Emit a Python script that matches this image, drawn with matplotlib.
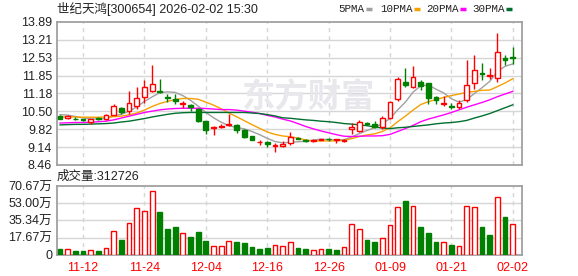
import matplotlib
matplotlib.use("Agg")
import matplotlib.pyplot as plt
from matplotlib.lines import Line2D

# ---------------------------------------------------------------------------
# DATA
# ---------------------------------------------------------------------------
dates = ["11-07", "11-10", "11-11", "11-12", "11-13", "11-14", "11-17", "11-18",
         "11-19", "11-20", "11-21", "11-24", "11-25", "11-26", "11-27", "11-28",
         "12-01", "12-02", "12-03", "12-04", "12-05", "12-08", "12-09", "12-10",
         "12-11", "12-12", "12-15", "12-16", "12-17", "12-18", "12-19", "12-22",
         "12-23", "12-24", "12-25", "12-26", "12-29", "12-30", "12-31", "01-05",
         "01-06", "01-07", "01-08", "01-09", "01-12", "01-13", "01-14", "01-15",
         "01-16", "01-19", "01-20", "01-21", "01-22", "01-23", "01-26", "01-27",
         "01-28", "01-29", "01-30", "02-02"]
shown_dates = ["11-12", "11-24", "12-04", "12-16", "12-26", "01-09", "01-21", "02-02"]

opens = [10.33, 10.25, 10.22, 10.20, 10.09, 10.23, 10.21, 10.37, 10.62, 10.50,
         10.71, 11.03, 11.27, 11.27, 11.05, 10.97, 10.77, 10.74, 10.58, 10.12,
         9.86, 9.89, 9.96, 9.98, 9.80, 9.55, 9.32, 9.33, 9.19, 9.17,
         9.30, 9.50, 9.41, 9.37, 9.41, 9.46, 9.40, 9.37, 9.82, 9.76,
         10.06, 10.03, 9.89, 10.24, 10.96, 11.60, 11.42, 11.60, 11.56, 11.05,
         10.78, 10.70, 10.66, 10.91, 11.56, 11.96, 11.83, 11.75, 12.53, 12.56]
highs = [10.36, 10.36, 10.26, 10.22, 10.20, 10.26, 10.38, 10.77, 10.64, 11.27,
         11.40, 11.68, 12.25, 11.72, 11.16, 11.16, 10.88, 10.78, 10.62, 10.14,
         9.93, 10.01, 10.39, 10.00, 9.82, 9.57, 9.42, 9.38, 9.29, 9.38,
         9.71, 9.52, 9.43, 9.44, 9.46, 9.50, 9.46, 9.45, 10.05, 10.18,
         10.10, 10.14, 10.30, 10.89, 11.80, 12.13, 12.22, 11.69, 11.58, 11.08,
         11.06, 10.81, 10.93, 12.44, 12.63, 12.32, 12.15, 13.47, 12.63, 12.95]
lows = [10.19, 10.20, 10.15, 10.12, 10.03, 10.17, 10.17, 10.35, 10.38, 10.40,
        10.59, 10.80, 11.22, 11.19, 10.85, 10.77, 10.63, 10.49, 10.08, 9.64,
        9.61, 9.86, 9.94, 9.67, 9.50, 9.40, 9.21, 9.15, 8.96, 9.13,
        9.23, 9.43, 9.35, 9.35, 9.40, 9.38, 9.29, 9.33, 9.64, 9.71,
        9.98, 9.86, 9.84, 10.20, 10.89, 11.40, 11.37, 11.31, 10.77, 10.78,
        10.68, 10.59, 10.59, 10.85, 11.35, 11.69, 11.72, 11.62, 12.25, 12.28]
closes = [10.21, 10.30, 10.19, 10.15, 10.19, 10.19, 10.36, 10.70, 10.45, 10.81,
          10.99, 11.41, 11.54, 11.24, 10.99, 10.88, 10.81, 10.64, 10.14, 9.77,
          9.89, 9.95, 10.00, 9.80, 9.51, 9.41, 9.34, 9.27, 9.21, 9.26,
          9.51, 9.46, 9.37, 9.40, 9.44, 9.43, 9.43, 9.41, 9.90, 10.09,
          10.03, 9.91, 10.24, 10.85, 11.71, 11.50, 11.79, 11.44, 10.99, 10.93,
          10.81, 10.67, 10.80, 11.50, 12.06, 11.92, 11.86, 12.73, 12.43, 12.52]

# volume in units of 10,000 shares (万)
volumes = [6.1, 6.0, 4.0, 4.0, 4.8, 4.0, 6.8, 24.3, 15.4, 32.5,
           47.8, 44.8, 65.3, 44.0, 26.6, 28.7, 22.2, 18.4, 23.6, 14.3,
           8.9, 8.9, 14.0, 13.3, 12.3, 8.2, 6.1, 7.2, 9.9, 8.9,
           13.0, 7.2, 6.1, 4.8, 5.8, 6.1, 5.1, 7.9, 31.4, 26.3,
           15.4, 13.3, 17.1, 30.7, 48.9, 55.3, 49.9, 28.7, 22.5, 13.3,
           13.3, 10.2, 8.9, 49.9, 48.9, 28.7, 20.5, 59.1, 38.9, 31.27]
vol_up = [0, 1, 0, 0, 1, 0, 1, 1, 0, 1,
          1, 1, 1, 0, 0, 0, 1, 0, 0, 0,
          1, 1, 1, 0, 0, 0, 0, 0, 1, 1,
          1, 0, 0, 1, 1, 0, 0, 1, 1, 1,
          0, 0, 1, 1, 1, 0, 1, 0, 0, 0,
          1, 0, 1, 1, 1, 0, 0, 1, 0, 1]

ma5 = [10.37, 10.35, 10.30, 10.24, 10.21, 10.20, 10.22, 10.32, 10.38, 10.50,
       10.66, 10.87, 11.04, 11.20, 11.23, 11.21, 11.09, 10.91, 10.69, 10.45,
       10.25, 10.08, 9.95, 9.88, 9.83, 9.73, 9.61, 9.47, 9.35, 9.30,
       9.32, 9.34, 9.36, 9.40, 9.44, 9.42, 9.41, 9.42, 9.52, 9.65,
       9.77, 9.87, 10.03, 10.22, 10.55, 10.84, 11.22, 11.46, 11.49, 11.33,
       11.19, 10.97, 10.84, 10.94, 11.17, 11.39, 11.63, 12.01, 12.20, 12.29]
ma10 = [10.28, 10.28, 10.28, 10.27, 10.27, 10.27, 10.28, 10.29, 10.31, 10.36,
        10.43, 10.54, 10.68, 10.79, 10.87, 10.94, 10.98, 10.98, 10.95, 10.84,
        10.73, 10.59, 10.43, 10.29, 10.14, 9.99, 9.85, 9.71, 9.62, 9.56,
        9.53, 9.48, 9.41, 9.37, 9.37, 9.37, 9.38, 9.39, 9.46, 9.54,
        9.60, 9.64, 9.73, 9.87, 10.10, 10.31, 10.54, 10.75, 10.86, 10.94,
        11.02, 11.09, 11.15, 11.21, 11.25, 11.29, 11.30, 11.43, 11.57, 11.73]
ma20 = [10.05, 10.06, 10.07, 10.07, 10.08, 10.10, 10.12, 10.17, 10.24, 10.31,
        10.38, 10.45, 10.50, 10.55, 10.58, 10.60, 10.61, 10.61, 10.61, 10.60,
        10.58, 10.56, 10.56, 10.54, 10.50, 10.46, 10.41, 10.34, 10.28, 10.20,
        10.13, 10.03, 9.92, 9.83, 9.75, 9.68, 9.61, 9.55, 9.54, 9.55,
        9.56, 9.56, 9.57, 9.62, 9.73, 9.84, 9.96, 10.10, 10.20, 10.28,
        10.36, 10.45, 10.55, 10.65, 10.74, 10.83, 10.93, 11.05, 11.15, 11.25]
ma30 = [9.98, 9.99, 10.00, 10.00, 10.01, 10.02, 10.03, 10.05, 10.09, 10.12,
        10.17, 10.22, 10.28, 10.33, 10.38, 10.42, 10.44, 10.45, 10.45, 10.45,
        10.45, 10.45, 10.45, 10.45, 10.45, 10.43, 10.41, 10.37, 10.32, 10.25,
        10.23, 10.20, 10.17, 10.15, 10.12, 10.10, 10.07, 10.03, 10.01, 9.98,
        9.95, 9.90, 9.86, 9.84, 9.87, 9.89, 9.92, 9.95, 9.98, 10.02,
        10.05, 10.07, 10.10, 10.15, 10.24, 10.32, 10.41, 10.52, 10.63, 10.74]

price_ticks = [8.46, 9.14, 9.82, 10.50, 11.18, 11.85, 12.53, 13.21, 13.89]
vol_ticks = [0, 17.67, 35.34, 53.00, 70.67]
vol_tick_labels = ["0", "17.67万", "35.34万", "53.00万", "70.67万"]
legend_items = ["5PMA", "10PMA", "20PMA", "30PMA"]

# ---------------------------------------------------------------------------
# STYLE
# ---------------------------------------------------------------------------
RED = "#ff0000"
GREEN = "#008000"
MA_COLORS = ["#a0a0a0", "#f5a000", "#ff00ff", "#006f2f"]
GRID = "#d6d6d6"
BORDER = "#a0a0a0"
W, H = 578, 276

plt.rcParams["font.family"] = ["Liberation Sans", "Noto Sans CJK SC"]

fig = plt.figure(figsize=(W / 100, H / 100), dpi=100)
ax = fig.add_axes([0.0986, 0.4022, 0.8045, 0.5192])
axv = fig.add_axes([0.0986, 0.0761, 0.8045, 0.25])

x = list(range(len(dates)))
xlim = (-0.4, len(dates) + 0.2)
tick_idx = [dates.index(d) for d in shown_dates]

for a in (ax, axv):
    a.set_xlim(*xlim)
    for s in a.spines.values():
        s.set_color(BORDER)
        s.set_linewidth(1.3)
    for i in tick_idx:
        a.axvline(i, color=GRID, lw=1, ls=(0, (3, 3)), zorder=0)
    a.tick_params(length=0, labelsize=9, colors="#222222")

# ---------------------------------------------------------------------------
# PRICE PANEL
# ---------------------------------------------------------------------------
ax.set_ylim(price_ticks[0], price_ticks[-1])
ax.set_yticks(price_ticks)
ax.set_yticklabels([f"{t:.2f}" for t in price_ticks])
ax.set_xticks([])
for t in price_ticks[1:-1]:
    ax.axhline(t, color=GRID, lw=1, zorder=0)

# watermark (behind the marks)
ax.text(0.54, 0.47, "东方财富", transform=ax.transAxes, fontsize=24,
        fontweight="bold", color="#e8e8ec", ha="center", va="center",
        family=["Noto Sans CJK SC"], zorder=1)

body_w = 0.62
for i in x:
    o, h, l, c = opens[i], highs[i], lows[i], closes[i]
    up = c >= o
    col = RED if up else GREEN
    ax.vlines(i, l, h, color=col, lw=1, zorder=3)
    height = max(abs(c - o), 0.006)
    ax.bar(i, height, bottom=min(o, c), width=body_w,
           facecolor="white" if up else GREEN, edgecolor=col,
           linewidth=1, zorder=4)

for ma, col in zip([ma5, ma10, ma20, ma30], MA_COLORS):
    ax.plot(x, ma, color=col, lw=1, zorder=2)

# ---------------------------------------------------------------------------
# VOLUME PANEL
# ---------------------------------------------------------------------------
axv.set_ylim(vol_ticks[0], vol_ticks[-1])
axv.set_yticks(vol_ticks)
axv.set_yticklabels(vol_tick_labels)
for t in vol_ticks[1:-1]:
    axv.axhline(t, color=GRID, lw=1, zorder=0)

for i in x:
    up = vol_up[i]
    axv.bar(i, volumes[i], width=0.62,
            facecolor="white" if up else GREEN,
            edgecolor=RED if up else GREEN, linewidth=1, zorder=3)

axv.set_xticks(tick_idx)
axv.set_xticklabels(shown_dates, color=RED)
axv.tick_params(axis="x", colors=RED, pad=5)

# ---------------------------------------------------------------------------
# TEXT
# ---------------------------------------------------------------------------
fig.text(57 / W, 1 - 8.5 / H, "世纪天鸿[300654] 2026-02-02 15:30", fontsize=9,
         color="#222222", ha="left", va="center")
fig.text(57 / W, 1 - 177 / H, "成交量:312726", fontsize=9, color="#222222",
         ha="left", va="center")

# legend: label then a short coloured bar
text_x = [338, 380, 426, 472]
for name, col, tx in zip(legend_items, MA_COLORS, text_x):
    fig.text(tx / W, 1 - 8.5 / H, name, fontsize=7.8, color="#222222",
             family=["Liberation Mono"], ha="left", va="center")
    bx = tx + 6.2 * len(name) + 3
    fig.add_artist(Line2D([bx / W, (bx + 6) / W], [1 - 9 / H, 1 - 9 / H],
                          transform=fig.transFigure, color=col, lw=2.5,
                          solid_capstyle="butt"))

fig.savefig("out.png", dpi=100)
